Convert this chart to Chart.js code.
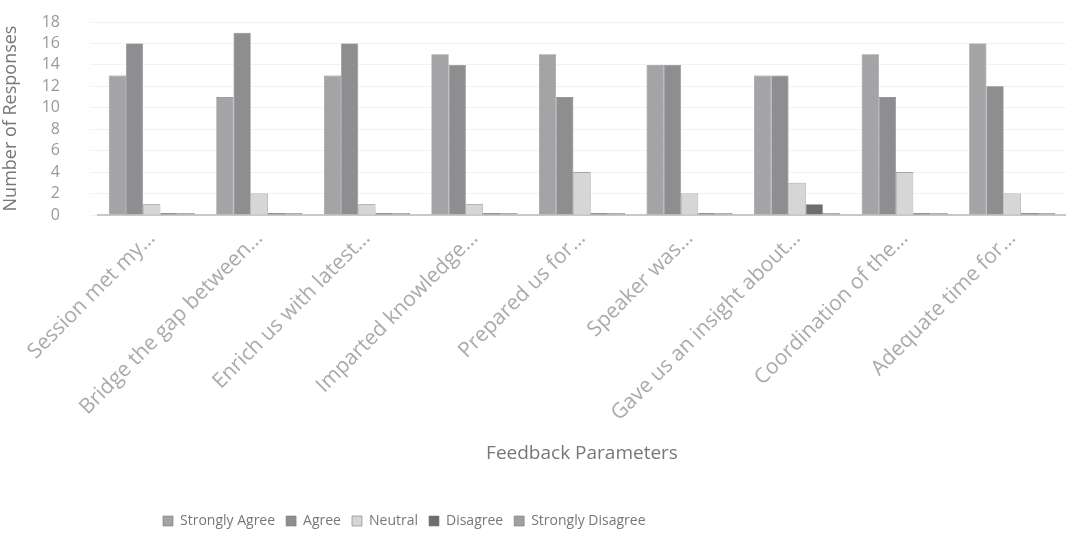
<!DOCTYPE html>
<html>
<head>
<meta charset="utf-8">
<script src="https://cdn.jsdelivr.net/npm/chart.js@4.4.1/dist/chart.umd.min.js"></script>
<style>
  html, body { margin: 0; padding: 0; background: #fff; }
  #wrap { width: 1066px; height: 544px; }
</style>
</head>
<body>
<div id="wrap"><canvas id="feedbackChart"></canvas></div>
<script>
// --- datos ---
const categorias = [
  'Session met my…', 'Bridge the gap between…', 'Enrich us with latest…',
  'Imparted knowledge…', 'Prepared us for…', 'Speaker was…',
  'Gave us an insight about…', 'Coordination of the…', 'Adequate time for…'
];
const stronglyAgree    = [13, 11, 13, 15, 15, 14, 13, 15, 16];
const agree            = [16, 17, 16, 14, 11, 14, 13, 11, 12];
const neutral          = [1, 2, 1, 1, 4, 2, 3, 4, 2];
const disagree         = [0, 0, 0, 0, 0, 0, 1, 0, 0];
const stronglyDisagree = [0, 0, 0, 0, 0, 0, 0, 0, 0];
const yTicks = [0, 2, 4, 6, 8, 10, 12, 14, 16, 18];

const series = [
  { label: 'Strongly Agree', data: stronglyAgree, color: '#a4a4a6' },
  { label: 'Agree', data: agree, color: '#8e8e90' },
  { label: 'Neutral', data: neutral, color: '#d6d6d6' },
  { label: 'Disagree', data: disagree, color: '#6e6e70' },
  { label: 'Strongly Disagree', data: stronglyDisagree, color: '#a0a0a2' }
];

// mueve la leyenda hacia la izquierda como en la imagen
const moverLeyenda = {
  id: 'moverLeyenda',
  afterLayout(chart) {
    const lg = chart.legend;
    if (!lg) return;
    const dx = 152 - lg.left;
    lg.left += dx;
    lg.right += dx;
  }
};

const ctx = document.getElementById('feedbackChart');
new Chart(ctx, {
  type: 'bar',
  data: {
    labels: categorias,
    datasets: series.map(s => ({
      label: s.label,
      data: s.data,
      backgroundColor: s.color,
      borderColor: '#7a7a7c',
      borderWidth: 0.6,
      minBarLength: 2,
      barPercentage: 1.0,
      categoryPercentage: 0.8
    }))
  },
  options: {
    responsive: true,
    maintainAspectRatio: false,
    animation: false,
    layout: { padding: { top: 22, right: 0, left: 0, bottom: 6 } },
    plugins: {
      legend: {
        position: 'bottom',
        align: 'start',
        labels: {
          boxWidth: 10,
          boxHeight: 10,
          padding: 11,
          color: '#777',
          font: { family: 'Open Sans', size: 14 }
        }
      },
      tooltip: { enabled: false }
    },
    scales: {
      x: {
        grid: { display: false },
        border: { color: '#c8c8c8', width: 2 },
        afterFit(axis) { axis.height = 288; },
        ticks: {
          color: '#aaaaaa',
          maxRotation: 45,
          minRotation: 45,
          autoSkip: false,
          font: { family: 'Open Sans', size: 21 }
        },
        title: {
          display: true,
          text: 'Feedback Parameters',
          color: '#777',
          padding: { top: 12, bottom: 38 },
          font: { family: 'Open Sans', size: 19 }
        }
      },
      y: {
        min: 0,
        max: 18,
        afterBuildTicks(axis) { axis.ticks = yTicks.map(v => ({ value: v })); },
        afterFit(axis) {
          axis.width = 98;
          // el padding de las etiquetas no debe empujar el area hacia abajo
          axis.paddingTop = 8;
          axis.paddingBottom = 8;
        },
        grid: { color: '#f2f2f2' },
        border: { display: false },
        ticks: {
          autoSkip: false,
          color: '#999',
          padding: 30,
          font: { family: 'Open Sans', size: 16 }
        },
        title: {
          display: true,
          text: 'Number of Responses',
          color: '#777',
          padding: 0,
          font: { family: 'Open Sans', size: 18 }
        }
      }
    }
  },
  plugins: [moverLeyenda]
});
</script>
</body>
</html>
